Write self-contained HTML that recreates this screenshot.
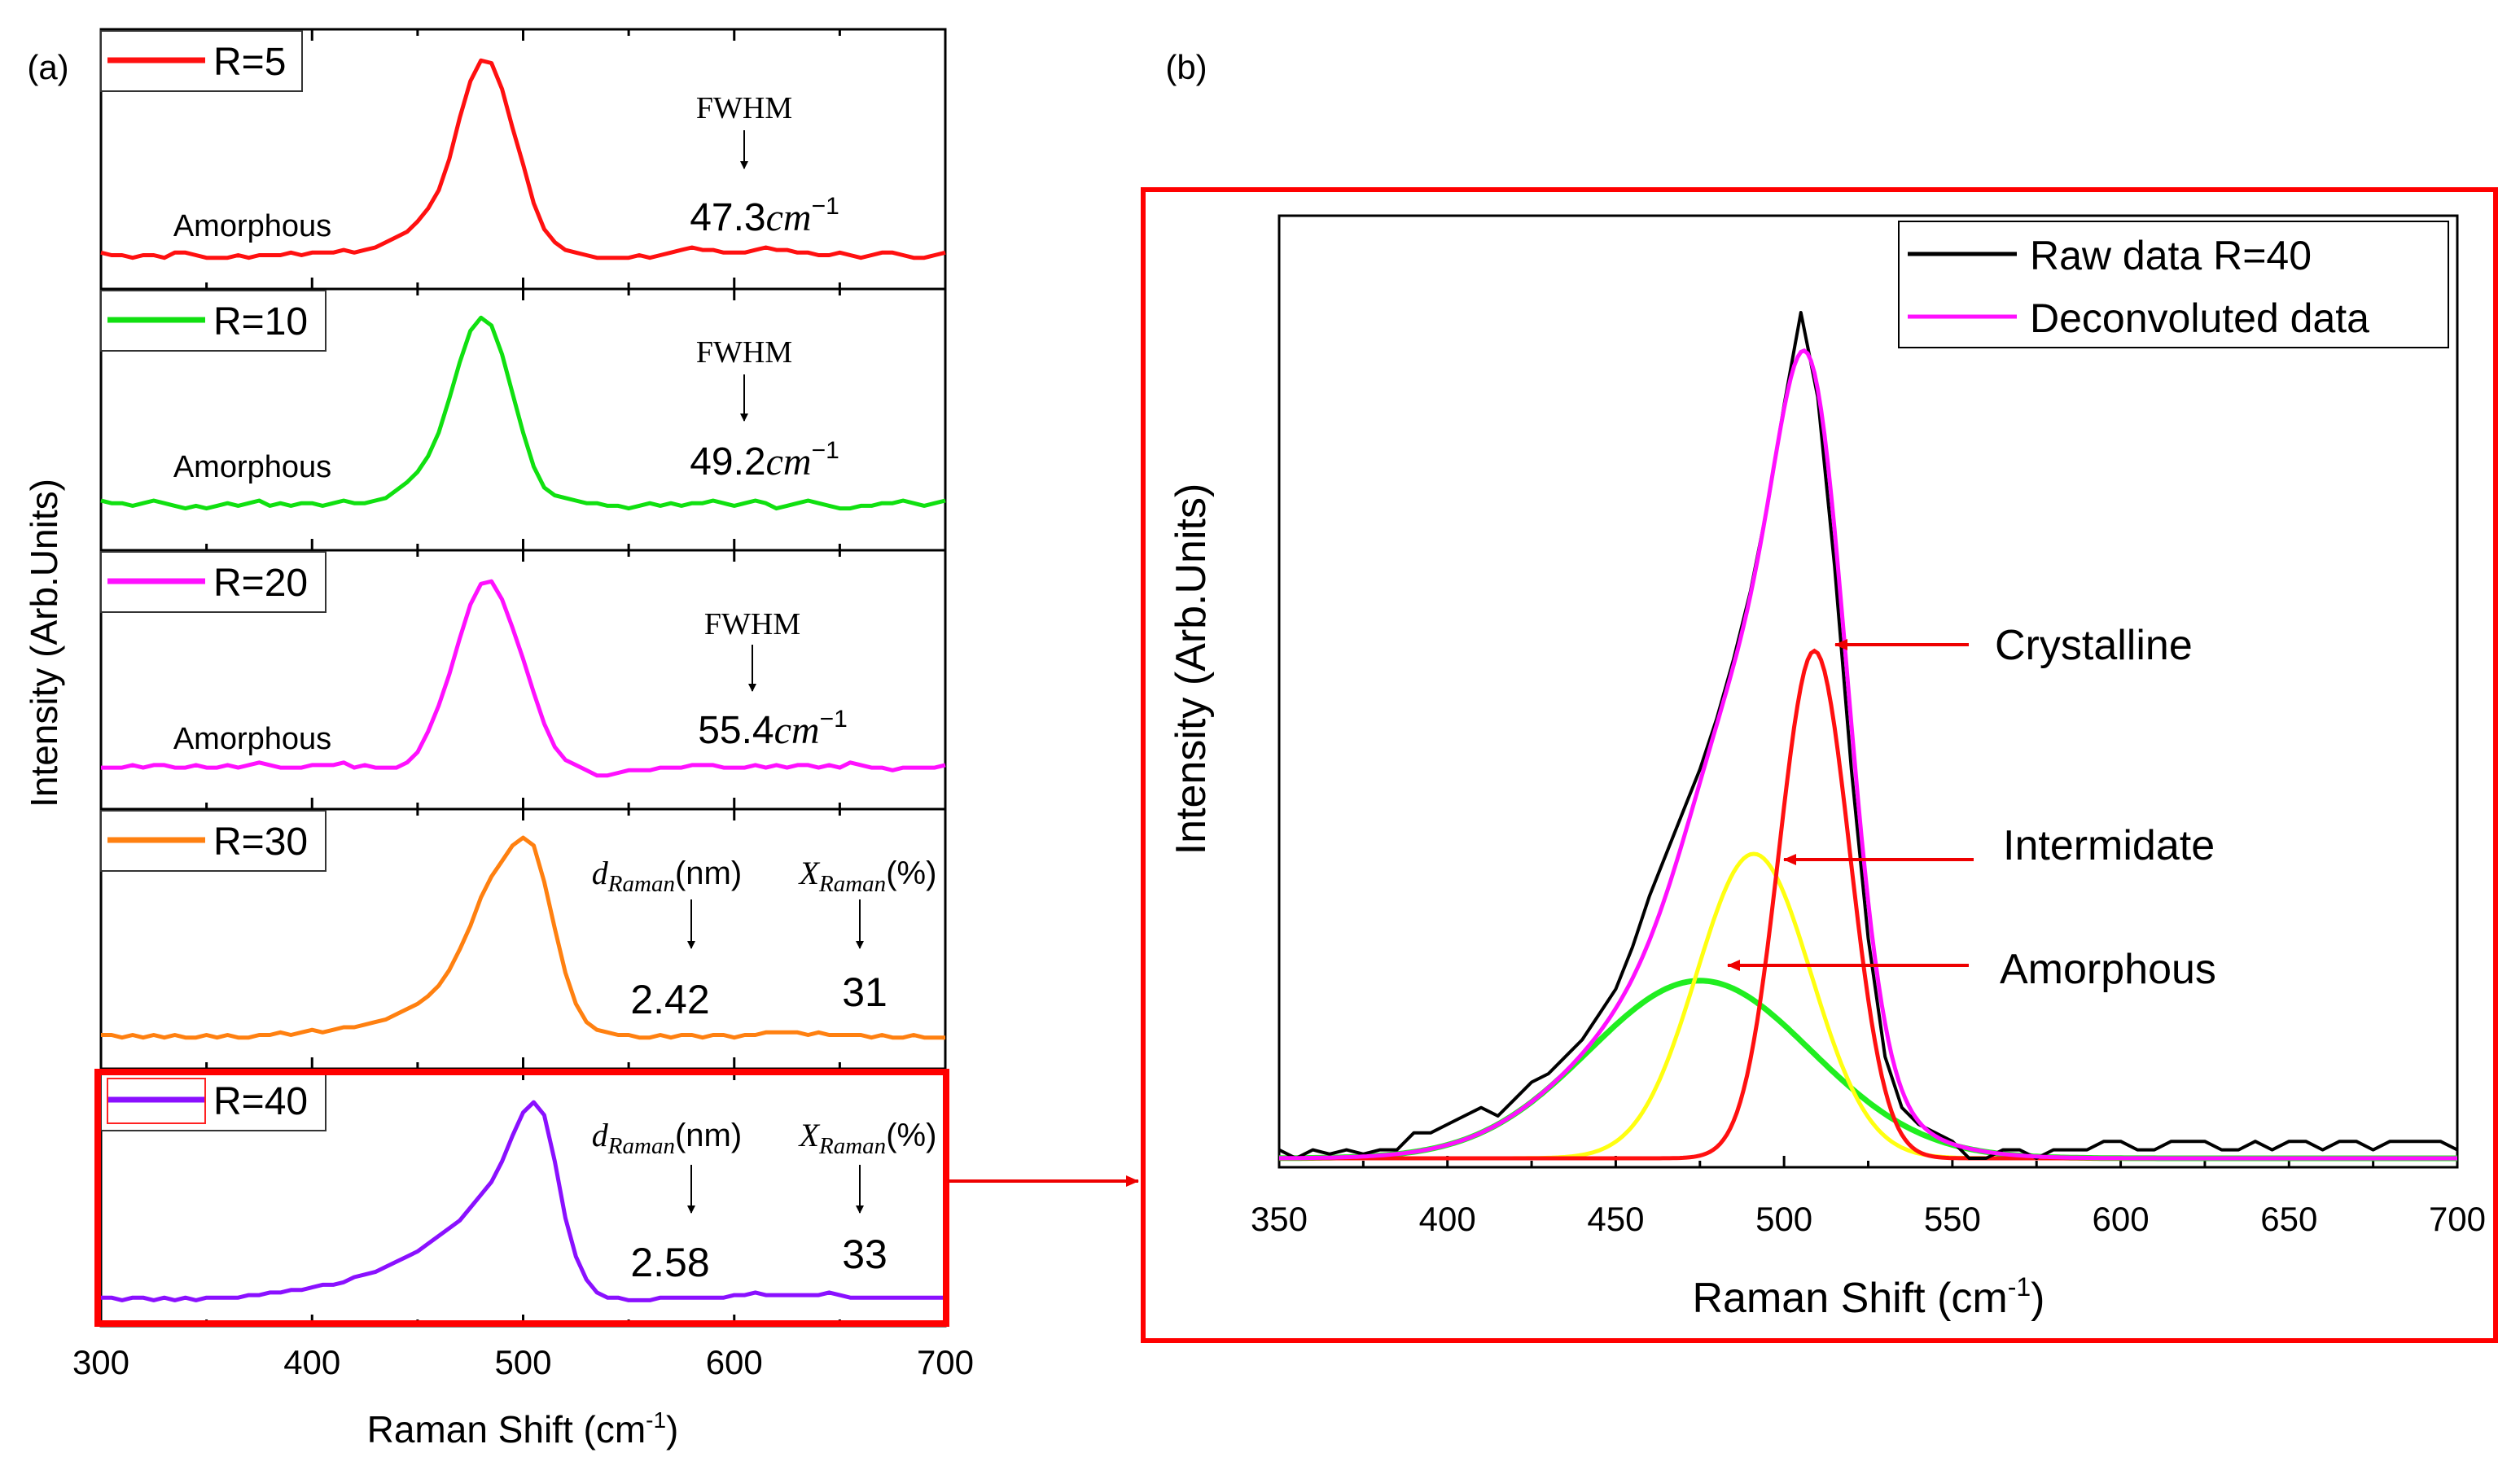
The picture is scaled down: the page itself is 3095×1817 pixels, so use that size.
<!DOCTYPE html>
<html><head><meta charset="utf-8"><style>
html,body{margin:0;padding:0;background:#fff;}
svg{display:block;}
text{font-family:"Liberation Sans",sans-serif;}
.m{font-family:"Liberation Serif",serif;}
</style></head><body>
<svg id="fig" width="3095" height="1817" viewBox="0 0 3095 1817" xmlns="http://www.w3.org/2000/svg">
<defs>
<marker id="ahb" markerWidth="10" markerHeight="10" refX="9" refY="5" orient="auto" markerUnits="userSpaceOnUse"><path d="M0,0 L10,5 L0,10 z" fill="#000"/></marker>
<marker id="ahr" markerWidth="16" markerHeight="14" refX="15" refY="7" orient="auto" markerUnits="userSpaceOnUse"><path d="M0,0 L16,7 L0,14 z" fill="#e00"/></marker>
</defs>
<g id="left"></g>
<g id="right"></g>
<g id="ann"></g>
</svg>
<script>
// ---------- data (panel a) ----------
const xStartA = 300;
const xStepA = 5;
const seriesNames = ["R=5","R=10","R=20","R=30","R=40"];
const seriesColors = ["#ff1010","#10e010","#ff10ff","#ff8010","#8a10ff"];
const r5 = [14,13,13,12,13,13,12,14,14,13,12,12,12,13,12,13,13,13,14,13,14,14,14,15,14,15,16,18,20,
 22,26,31,38,50,66,80,88,87,77,62,48,33,23,18,15,14,13,12,12,12,12,13,12,13,14,15,16,15,15,14,14,14,15,16,15,15,14,14,13,13,14,13,12,13,14,14,13,12,12,13,14];
const r10 = [19,18,18,17,18,19,18,17,16,17,16,17,18,17,18,19,17,18,17,18,18,17,18,19,18,18,19,20,23,
 26,30,36,45,58,72,84,89,86,75,60,45,32,24,21,20,19,18,18,17,17,16,17,18,17,18,17,18,18,19,18,17,18,19,18,16,17,18,19,18,17,16,16,17,17,18,18,19,18,17,18,19];
const r20 = [16,16,16,17,16,17,17,16,16,17,16,16,17,16,17,18,17,16,16,16,17,17,17,18,16,17,16,16,16,
 18,22,30,40,52,66,79,87,88,81,70,58,45,33,24,19,17,15,13,13,14,15,15,15,16,16,16,17,17,17,16,16,16,17,16,17,16,17,17,16,17,16,18,17,16,16,15,16,16,16,16,17];
const r30 = [13,13,12,13,12,13,12,13,12,12,13,12,13,12,12,13,13,14,13,14,15,14,15,16,16,17,18,19,21,
 23,25,28,32,38,46,55,66,74,80,86,89,86,72,54,37,25,18,15,14,13,13,12,12,13,12,13,13,12,13,13,12,13,13,14,14,14,14,13,14,13,13,13,13,12,13,12,12,13,12,12,12];
const r40 = [11,11,10,11,11,10,11,10,11,10,11,11,11,11,12,12,13,13,14,14,15,16,16,17,19,20,21,23,25,
 27,29,32,35,38,41,46,51,56,64,74,83,87,82,64,42,27,18,13,11,11,10,10,10,11,11,11,11,11,11,11,12,12,13,12,12,12,12,12,12,13,12,11,11,11,11,11,11,11,11,11,11];
const xTicksA = [300,400,500,600,700];
// ---------- data (panel b) ----------
const xStartB = 350;
const xStepB = 5;
const rawB = [1,0,1,0.5,1,0.5,1,1,3,3,4,5,6,5,7,9,10,12,14,17,20,25,31,36,41,46,52,59,67,77,89,100,90,70,46,26,12,6,4,3,2,0,0,1,1,0,1,1,1,2,2,1,1,2,2,2,1,1,2,1,2,2,1,2,2,1,2,2,2,2,1];
const peakNames = ["Crystalline","Intermidate","Amorphous"];
const peakCenters = [509,491,475];
const peakAmps = [60,36,21];
const peakSigmas = [10.5,17,33];
const peakColors = ["#ff1010","#ffff10","#20ee20"];
const xTicksB = [350,400,450,500,550,600,650,700];

const NS="http://www.w3.org/2000/svg";
function mk(tag,attrs,parent,txt){const e=document.createElementNS(NS,tag);for(const k in attrs)e.setAttribute(k,attrs[k]);if(txt!==undefined)e.textContent=txt;parent.appendChild(e);return e;}

// ---------- panel a ----------
const L=document.getElementById('left');
const axL=124, axR=1161;
const panelTops=[36,355,676,994,1313], panelBots=[355,676,994,1313,1629];
function sxA(v){return axL+(v-300)/400*(axR-axL);}
const allA=[r5,r10,r20,r30,r40];
const legW=[247,276,276,276,276];
for(let p=0;p<5;p++){
  const T=panelTops[p],B=panelBots[p];
  const sy=v=>B-v/100*(B-T);
  const fr=mk('rect',{x:axL,y:T,width:axR-axL,height:B-T,fill:'none',stroke:'#000','stroke-width':3},L);
  
  
  for(let t=300;t<=700;t+=50){
    const len=(t%100===0)?14:8;
    mk('line',{x1:sxA(t),x2:sxA(t),y1:T,y2:T+len,stroke:'#000','stroke-width':3},L);
    mk('line',{x1:sxA(t),x2:sxA(t),y1:B,y2:B-len,stroke:'#000','stroke-width':3},L);
  }
  const d=allA[p].map((v,i)=>(i?'L':'M')+sxA(xStartA+i*xStepA).toFixed(1)+','+sy(v).toFixed(1)).join(' ');
  const ln=mk('path',{d:d,fill:'none',stroke:seriesColors[p],'stroke-width':5,'stroke-linejoin':'round'},L);
  
  
  const lg=mk('g',{},L);
  
  
  mk('rect',{x:axL,y:T+2,width:legW[p],height:74,fill:'#fff',stroke:'#333','stroke-width':2},lg);
  mk('line',{x1:axL+8,x2:axL+128,y1:T+38,y2:T+38,stroke:seriesColors[p],'stroke-width':7},lg);
  if(p===4) mk('rect',{x:axL+8,y:T+12,width:120,height:55,fill:'none',stroke:'#f22','stroke-width':2},lg);
  mk('text',{x:axL+138,y:T+56,'font-size':48},lg,seriesNames[p]);
}
for(const t of xTicksA){
  const tl=mk('text',{x:sxA(t),y:1688,'font-size':42,'text-anchor':'middle'},L,String(t));
  
  
}
const hb=mk('rect',{x:120,y:1317,width:1042,height:309,fill:'none',stroke:'#f00','stroke-width':8},L);



// ---------- panel b ----------
const R=document.getElementById('right');
const bL=1571,bR=3018,bT=265,bB=1434,base=1423,top100=384;
function sxB(v){return bL+(v-350)/350*(bR-bL);}
function syB(v){return base-v/100*(base-top100);}
const ob=mk('rect',{x:1404,y:233,width:1661,height:1414,fill:'none',stroke:'#f00','stroke-width':6},R);


mk('rect',{x:bL,y:bT,width:bR-bL,height:bB-bT,fill:'none',stroke:'#000','stroke-width':3},R);
for(let t=350;t<=700;t+=25){
  const len=(t%50===0)?14:8;
  mk('line',{x1:sxB(t),x2:sxB(t),y1:bB,y2:bB-len,stroke:'#000','stroke-width':3},R);
}
for(const t of xTicksB){
  const tl=mk('text',{x:sxB(t),y:1512,'font-size':42,'text-anchor':'middle'},R,String(t));
  
  
}
function gauss(k,x){return peakAmps[k]*Math.exp(-Math.pow(x-peakCenters[k],2)/(2*peakSigmas[k]*peakSigmas[k]));}
const compOrder=[2,1,0];
for(const k of compOrder){
  let d='';
  for(let x=350;x<=700;x+=1){d+=(x===350?'M':'L')+sxB(x).toFixed(1)+','+syB(gauss(k,x)).toFixed(1)+' ';}
  const c=mk('path',{d:d,fill:'none',stroke:peakColors[k],'stroke-width':k===2?7:5},R);
  
  
}
const rd=rawB.map((v,i)=>(i?'L':'M')+sxB(xStartB+i*xStepB).toFixed(1)+','+syB(v).toFixed(1)).join(' ');
const rl=mk('path',{d:rd,fill:'none',stroke:'#000','stroke-width':4,'stroke-linejoin':'round'},R);


let dd='';
for(let x=350;x<=700;x+=1){let s=0;for(let k=0;k<3;k++)s+=gauss(k,x);dd+=(x===350?'M':'L')+sxB(x).toFixed(1)+','+syB(s).toFixed(1)+' ';}
const dl=mk('path',{d:dd,fill:'none',stroke:'#ff10ff','stroke-width':5},R);


const lgb=mk('g',{},R);


mk('rect',{x:2332,y:272,width:675,height:155,fill:'#fff',stroke:'#000','stroke-width':2},lgb);
mk('line',{x1:2343,x2:2477,y1:312,y2:312,stroke:'#000','stroke-width':5},lgb);
mk('line',{x1:2343,x2:2477,y1:389,y2:389,stroke:'#ff10ff','stroke-width':5},lgb);
mk('text',{x:2493,y:331,'font-size':50},lgb,'Raw data R=40');
mk('text',{x:2493,y:408,'font-size':50},lgb,'Deconvoluted data');
</script>
<script>
const A=document.getElementById('ann');
function t(x,y,s,txt,name,anchor,cls){const e=mk('text',{x:x,y:y,'font-size':s,'text-anchor':anchor||'middle'},A,txt);if(cls)e.setAttribute('class',cls);return e;}
function arr(x1,y1,x2,y2,name,red){const e=mk('line',{x1:x1,y1:y1,x2:x2,y2:y2,stroke:red?'#e00':'#000','stroke-width':red?4:2,'marker-end':red?'url(#ahr)':'url(#ahb)'},A);}
t(59,97,42,'(a)','label-a');
t(1457,97,42,'(b)','label-b');
const yt=t(0,0,46,'Intensity (Arb.Units)','y-axis-title-a');
yt.setAttribute('transform','translate(70,790) rotate(-90)');
const yt2=t(0,0,52,'Intensity (Arb.Units)','y-axis-title-b');
yt2.setAttribute('transform','translate(1480,822) rotate(-90)');
const xa=t(642,1772,46,'Raman Shift (cm','x-axis-title-a');
mk('tspan',{dy:-18,'font-size':28},xa,'-1');mk('tspan',{dy:18},xa,')');
const xb=t(2295,1612,52,'Raman Shift (cm','x-axis-title-b');
mk('tspan',{dy:-20,'font-size':32},xb,'-1');mk('tspan',{dy:20},xb,')');
const amY=[290,586,920];
amY.forEach((y,i)=>t(310,y,38,'Amorphous','amorphous-label-'+(i+1)));
const fw=[[914,145,160,207,'47.3'],[914,445,460,517,'49.2'],[924,779,792,849,'55.4']];
const vy=[283,583,913];
fw.forEach((f,i)=>{t(f[0],f[1],38,'FWHM','fwhm-label-'+(i+1),'middle','m');arr(f[0],f[2],f[0],f[3],'fwhm-arrow-'+(i+1));
 const e=t(f[0]+25,vy[i],48,f[4],'fwhm-value-'+(i+1));mk('tspan',{'font-family':'Liberation Serif','font-style':'italic'},e,'cm');mk('tspan',{dy:-20,'font-size':30},e,'−1');});
[[1086,1105,1165,1245,'2.42','31',1236],[1408,1431,1490,1568,'2.58','33',1558]].forEach((r,i)=>{
 const a=t(819,r[0],40,'','d-raman-label-'+(i+1));mk('tspan',{'font-family':'Liberation Serif','font-style':'italic'},a,'d');mk('tspan',{dy:9,'font-size':29,'font-family':'Liberation Serif','font-style':'italic'},a,'Raman');mk('tspan',{dy:-9},a,'(nm)');
 const b=t(1066,r[0],40,'','x-raman-label-'+(i+1));mk('tspan',{'font-family':'Liberation Serif','font-style':'italic'},b,'X');mk('tspan',{dy:9,'font-size':29,'font-family':'Liberation Serif','font-style':'italic'},b,'Raman');mk('tspan',{dy:-9},b,'(%)');
 arr(849,r[1],849,r[2],'d-arrow-'+(i+1));arr(1056,r[1],1056,r[2],'x-arrow-'+(i+1));
 t(823,r[3],50,r[4],'d-value-'+(i+1));t(1062,r[6],50,r[5],'x-value-'+(i+1));
});
arr(1164,1451,1398,1451,'link-arrow',true);
t(2450,810,52,'Crystalline','crystalline-label','start');arr(2418,792,2254,792,'crystalline-arrow',true);
t(2460,1056,52,'Intermidate','intermediate-label','start');arr(2424,1056,2191,1056,'intermediate-arrow',true);
t(2456,1208,52,'Amorphous','amorphous-label-b','start');arr(2418,1186,2122,1186,'amorphous-arrow',true);
</script>
</body></html>
